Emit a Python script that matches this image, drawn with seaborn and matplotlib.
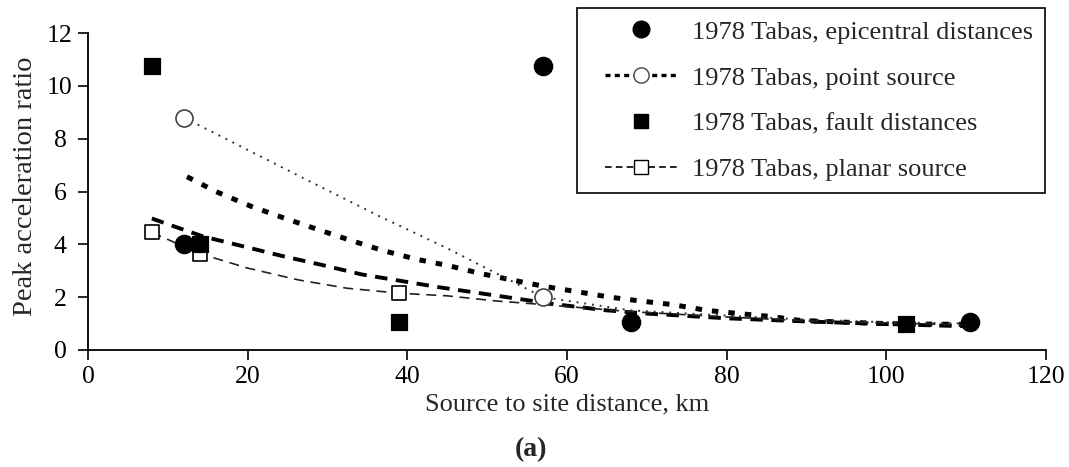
import matplotlib
matplotlib.use("Agg")
import matplotlib.pyplot as plt
from matplotlib.lines import Line2D
from matplotlib.legend_handler import HandlerLine2D
import seaborn as sns

# ---- data ----
epi_x = [12, 57, 68, 110.5]
epi_y = [4.0, 10.75, 1.05, 1.05]

fault_x = [8, 14, 39, 102.5]
fault_y = [10.75, 4.0, 1.07, 1.0]

point_x = [12, 27.8, 36.6, 45, 57, 68, 80, 90, 100, 111]
point_y = [8.8, 6.38, 5.05, 3.85, 2.0, 1.5, 1.3, 1.15, 1.05, 1.0]
point_mk_x = [12, 57]
point_mk_y = [8.8, 2.0]

planar_x = [8, 14, 20, 26.4, 32.4, 39, 45, 51, 57, 68, 80, 90, 103, 110]
planar_y = [4.45, 3.65, 3.1, 2.65, 2.34, 2.15, 2.05, 1.86, 1.72, 1.45, 1.25, 1.1, 1.0, 0.95]
planar_mk_x = [8, 14, 39]
planar_mk_y = [4.45, 3.65, 2.15]

curveA_x = [12.4, 16, 20.5, 24.7, 28.9, 33, 37, 41.2, 45.2, 49.1, 53.1, 57.3, 61.2,
            65.4, 69.3, 73.2, 77.5, 81.8, 85.5, 89.2, 95, 100, 105, 110]
curveA_y = [6.56, 6.0, 5.43, 4.98, 4.55, 4.14, 3.76, 3.43, 3.19, 2.9, 2.65, 2.4, 2.21,
            2.0, 1.85, 1.72, 1.5, 1.37, 1.27, 1.12, 1.05, 1.0, 0.98, 0.97]

curveB_x = [8, 10.3, 14.4, 19.5, 24.3, 29.3, 34.3, 39.3, 44.1, 49.1, 52.9, 58.3,
            65, 70, 80, 90, 100, 110]
curveB_y = [4.98, 4.73, 4.3, 3.92, 3.56, 3.22, 2.86, 2.61, 2.37, 2.15, 1.98, 1.74,
            1.5, 1.38, 1.2, 1.08, 0.98, 0.9]

labels = ["1978 Tabas, epicentral distances", "1978 Tabas, point source",
          "1978 Tabas, fault distances", "1978 Tabas, planar source"]
x_ticks = [0, 20, 40, 60, 80, 100, 120]
y_ticks = [0, 2, 4, 6, 8, 10, 12]

# ---- style ----
sns.set_style("ticks")
plt.rcParams["font.family"] = ["Liberation Serif", "DejaVu Serif"]
plt.rcParams["font.size"] = 19

W, H = 1069, 467
fig = plt.figure(figsize=(W / 100, H / 100), dpi=100)
ax = fig.add_axes([88 / W, 1 - 350 / H, (1046 - 88) / W, (350 - 33) / H])

# thick unlabeled curves
sns.lineplot(x=curveA_x, y=curveA_y, ax=ax, color="black", lw=3.6,
             linestyle=(0, (1.3, 2.0)), sort=False, estimator=None)
sns.lineplot(x=curveB_x, y=curveB_y, ax=ax, color="black", lw=2.8,
             linestyle=(0, (3.2, 2.2)), sort=False, estimator=None)

# point source (dotted)
sns.lineplot(x=point_x, y=point_y, ax=ax, color="#333333", lw=1.4,
             linestyle=(0, (1, 3)), sort=False, estimator=None)
sns.scatterplot(x=point_mk_x, y=point_mk_y, ax=ax, marker="o", s=150,
                facecolor="white", edgecolor="#444444", linewidth=1.2, zorder=5)

# planar source (dashed)
sns.lineplot(x=planar_x, y=planar_y, ax=ax, color="#222222", lw=1.2,
             linestyle=(0, (6, 4)), sort=False, estimator=None)
sns.scatterplot(x=planar_mk_x, y=planar_mk_y, ax=ax, marker="s", s=110,
                facecolor="white", edgecolor="black", linewidth=1.2, zorder=5)

# data points
sns.scatterplot(x=epi_x, y=epi_y, ax=ax, marker="o", s=170, color="black",
                edgecolor="black", zorder=6)
sns.scatterplot(x=fault_x, y=fault_y, ax=ax, marker="s", s=120, color="black",
                edgecolor="black", zorder=6)

ax.set_xlim(0, 120)
ax.set_ylim(0, 12)
ax.set_xticks(x_ticks)
ax.set_yticks(y_ticks)
ax.tick_params(direction="out", length=7.2, width=1.2, labelsize=18.5, colors="black")
ax.tick_params(axis="x", pad=4)
ax.tick_params(axis="y", pad=13)
for t in ax.get_yticklabels():
    t.set_ha("center")
for s in ["top", "right"]:
    ax.spines[s].set_visible(False)
for s in ["left", "bottom"]:
    ax.spines[s].set_linewidth(1.3)
    ax.spines[s].set_color("black")
ax.set_xlabel("Source to site distance, km", fontsize=19)
ax.set_ylabel("Peak acceleration ratio", fontsize=20.5)
ax.xaxis.set_label_coords(0.5, (350 - 393) / 317)
ax.yaxis.set_label_coords((38 - 88) / 958, 0.515)

handles = [
    Line2D([], [], marker="o", linestyle="none", color="black", markersize=12),
    Line2D([], [], marker="o", linestyle=(0, (1.5, 1.3)), color="black", lw=2.4,
           markerfacecolor="white", markeredgecolor="#444444", markersize=11),
    Line2D([], [], marker="s", linestyle="none", color="black", markersize=10),
    Line2D([], [], marker="s", linestyle=(0, (4, 2.5)), color="black", lw=1.2,
           markerfacecolor="white", markeredgecolor="black", markersize=10),
]
leg = fig.legend(handles, labels, loc="upper left",
                 bbox_to_anchor=(577 / W, 1 - 8 / H), bbox_transform=fig.transFigure,
                 borderaxespad=0, frameon=True, fancybox=False, edgecolor="black",
                 framealpha=1, fontsize=19, handlelength=3.33, handletextpad=0.57,
                 labelspacing=0.85, borderpad=0.46,
                 handler_map={Line2D: HandlerLine2D(xpad=0.61)})
leg.get_frame().set_linewidth(1.2)

fig.text(0.497, 1 - 450 / H, "(a)", ha="center", va="center", fontsize=20,
         fontweight="bold")

fig.savefig("out.png", dpi=100)
